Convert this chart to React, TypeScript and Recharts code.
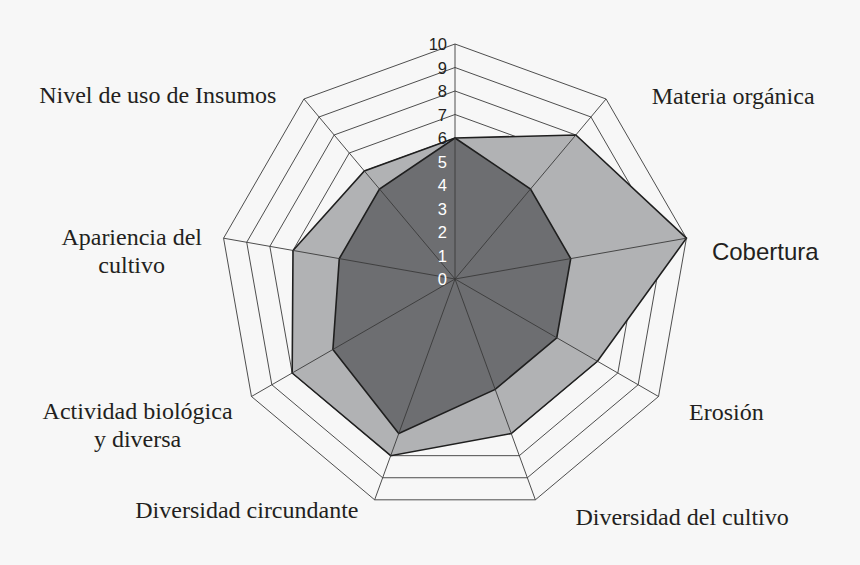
import { RadarChart, Radar, PolarGrid, PolarAngleAxis, PolarRadiusAxis } from 'recharts'

const axes = [
  '',
  'Materia orgánica',
  'Cobertura',
  'Erosión',
  'Diversidad del cultivo',
  'Diversidad circundante',
  'Actividad biológica|y diversa',
  'Apariencia del|cultivo',
  'Nivel de uso de Insumos',
]
const outerValues = [6, 8, 10, 7, 7, 8, 8, 7, 6]
const innerValues = [6, 5, 5, 5, 5, 7, 6, 5, 5]
const radiusTicks = [0, 1, 2, 3, 4, 5, 6, 7, 8, 9, 10]

// label offsets from the point recharts gives for each angle tick
const labelShift = [
  [0, 0],
  [122, 3],
  [71, 15],
  [61, 11],
  [144, 10],
  [-125, 3],
  [-107, 24],
  [-84, 14],
  [-141, 2],
]

const data = axes.map((name, i) => ({
  name,
  outer: outerValues[i],
  inner: innerValues[i],
}))

function AngleTick(props: any) {
  const { x, y, payload, index } = props
  const lines = String(payload.value).split('|').filter((s) => s)
  if (!lines.length) return null
  const [dx, dy] = labelShift[index] || [0, 0]
  const sans = payload.value === 'Cobertura'
  const lh = 28
  const top = y + dy - ((lines.length - 1) * lh) / 2
  return (
    <text
      textAnchor="middle"
      fill="#231f20"
      fontFamily={sans ? '"Liberation Sans", Arial, sans-serif' : '"Liberation Serif", "Times New Roman", serif'}
      fontSize={sans ? 24 : 24}
    >
      {lines.map((l, i) => (
        <tspan key={i} x={x + dx} y={top + i * lh} dominantBaseline="central">
          {l}
        </tspan>
      ))}
    </text>
  )
}

function RadiusTick(props: any) {
  const { x, y, payload } = props
  return (
    <text
      x={x - 8}
      y={y}
      textAnchor="end"
      dominantBaseline="central"
      fontFamily='"Liberation Sans", Arial, sans-serif'
      fontSize={16.5}
      fill={payload.value <= 5 ? '#ffffff' : '#231f20'}
    >
      {payload.value}
    </text>
  )
}

export default function App() {
  return (
    <div style={{ position: 'absolute', left: 0, top: 0, width: 860, height: 565, background: '#f7f7f7' }}>
      <RadarChart width={860} height={565} data={data} cx={455} cy={279} outerRadius={235}>
        <PolarGrid stroke="#3a3a3a" strokeWidth={0.9} radialLines={false} />
        <Radar
          dataKey="outer"
          stroke="#1f1f1f"
          strokeWidth={1.6}
          fill="#b1b2b4"
          fillOpacity={1}
          isAnimationActive={false}
        />
        <Radar
          dataKey="inner"
          stroke="#1f1f1f"
          strokeWidth={1.6}
          fill="#6d6e71"
          fillOpacity={1}
          isAnimationActive={false}
        />
        <PolarGrid stroke="#3a3a3a" strokeWidth={0.9} polarRadius={[]} zIndex={600} />
        <PolarAngleAxis dataKey="name" tick={<AngleTick />} tickLine={false} axisLine={false} />
        <PolarRadiusAxis
          angle={90}
          domain={[0, 10]}
          ticks={radiusTicks as any}
          tickCount={11}
          tick={<RadiusTick />}
          axisLine={false}
          tickLine={false}
          zIndex={700}
        />
      </RadarChart>
    </div>
  )
}
